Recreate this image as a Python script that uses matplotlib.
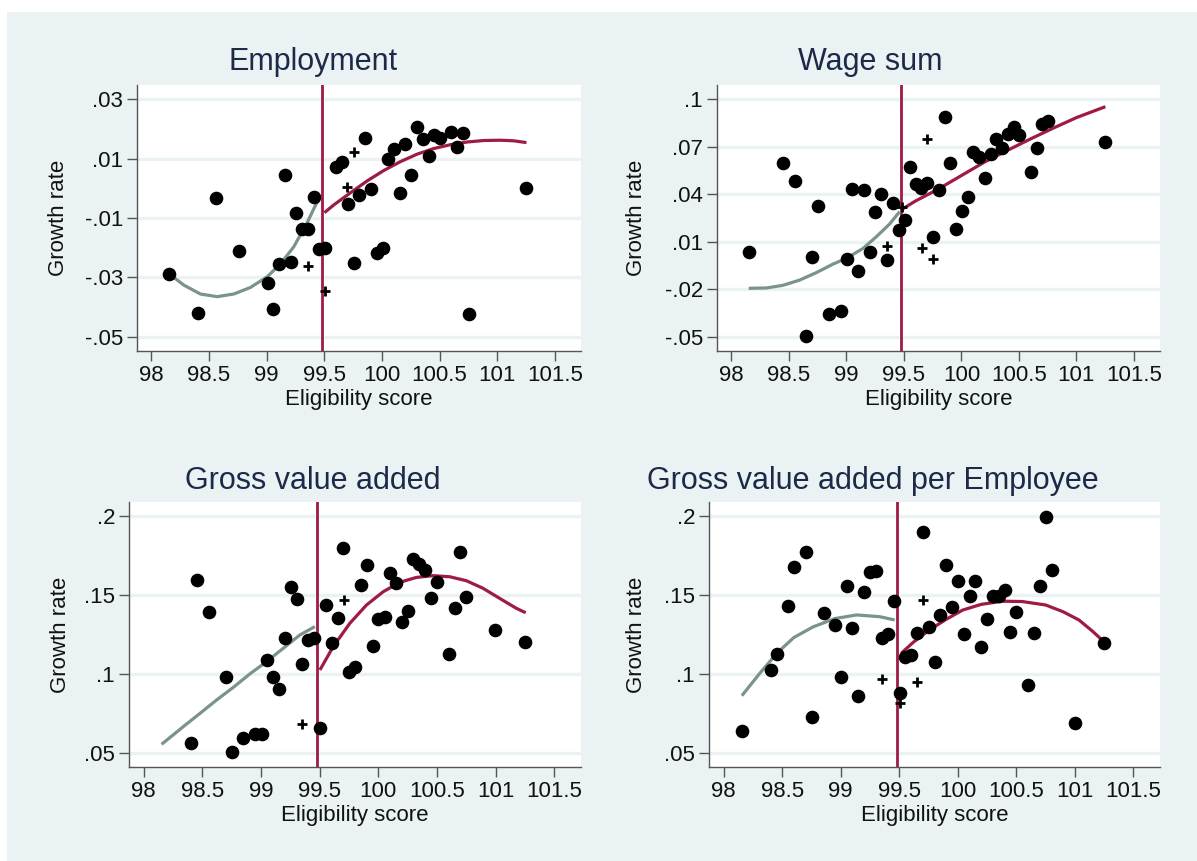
import matplotlib
matplotlib.use("Agg")
import matplotlib.pyplot as plt
from matplotlib.patches import Rectangle

plt.rcParams['font.family'] = ['Liberation Sans', 'DejaVu Sans']

# cutoff on the eligibility score
cutoff = 99.478

# x ticks shared by all panels
x_ticks = [98, 98.5, 99, 99.5, 100, 100.5, 101, 101.5]
x_tick_labels = ["98", "98.5", "99", "99.5", "100", "100.5", "101", "101.5"]

# ---- Employment ----
emp_x = [98.156, 98.405, 98.558, 98.758, 99.01, 99.059, 99.111, 99.157, 99.209, 99.258,
         99.307, 99.357, 99.409, 99.458, 99.510, 99.605, 99.657, 99.704, 99.756, 99.805,
         99.857, 99.906, 99.955, 100.005, 100.054, 100.103, 100.155, 100.204, 100.253, 100.305,
         100.355, 100.407, 100.456, 100.505, 100.603, 100.653, 100.705, 100.754, 101.254]
emp_y = [-0.0289, -0.0419, -0.0033, -0.0210, -0.0318, -0.0406, -0.0256, 0.0045, -0.0248, -0.0082,
         -0.0138, -0.0136, -0.0028, -0.0204, -0.0200, 0.0073, 0.0090, -0.0053, -0.0253, -0.0024,
         0.0171, -0.0001, -0.0218, -0.0200, 0.0100, 0.0131, -0.0017, 0.0149, 0.0045, 0.0206,
         0.0165, 0.0109, 0.0179, 0.0169, 0.0191, 0.0138, 0.0188, -0.0422, 0.0000]
emp_plus_x = [99.36, 99.51, 99.70, 99.76]
emp_plus_y = [-0.0261, -0.0347, 0.0006, 0.0121]
emp_left_x = [98.156, 98.281, 98.425, 98.570, 98.715, 98.859, 99.004, 99.119, 99.235, 99.351, 99.452]
emp_left_y = [-0.0289, -0.0326, -0.0356, -0.0365, -0.0356, -0.0334, -0.0298, -0.0255, -0.0197, -0.0116, -0.0034]
emp_right_x = [99.501, 99.582, 99.727, 99.872, 100.016, 100.161, 100.305, 100.450, 100.595, 100.739,
               100.884, 101.029, 101.144, 101.254]
emp_right_y = [-0.0082, -0.0056, -0.0015, 0.0025, 0.0060, 0.0090, 0.0115, 0.0134, 0.0147, 0.0156,
               0.0161, 0.0162, 0.0160, 0.0154]
emp_ticks = [0.03, 0.01, -0.01, -0.03, -0.05]
emp_tick_labels = [".03", ".01", "-.01", "-.03", "-.05"]

# ---- Wage sum ----
wage_x = [98.151, 98.452, 98.551, 98.704, 98.750, 98.652, 98.852, 98.950, 99.003, 99.052,
          99.101, 99.150, 99.203, 99.252, 99.304, 99.353, 99.402, 99.455, 99.507, 99.553,
          99.602, 99.652, 99.704, 99.756, 99.805, 99.855, 99.904, 99.953, 100.005, 100.054,
          100.104, 100.153, 100.205, 100.254, 100.304, 100.353, 100.405, 100.454, 100.504, 100.602,
          100.654, 100.704, 100.753, 101.251]
wage_y = [0.0033, 0.0596, 0.0486, 0.0001, 0.0326, -0.0496, -0.0355, -0.0336, -0.0009, 0.0435,
          -0.0087, 0.0425, 0.0033, 0.0290, 0.0402, -0.0015, 0.0343, 0.0174, 0.0237, 0.0570,
          0.0467, 0.0442, 0.0473, 0.0128, 0.0425, 0.0886, 0.0596, 0.0181, 0.0296, 0.0383,
          0.0669, 0.0638, 0.0503, 0.0655, 0.0751, 0.0692, 0.0779, 0.0823, 0.0772, 0.0543,
          0.0692, 0.0844, 0.0861, 0.0732]
wage_plus_x = [99.356, 99.487, 99.655, 99.704, 99.756]
wage_plus_y = [0.0073, 0.0322, 0.0058, 0.0749, -0.0009]
wage_left_x = [98.151, 98.304, 98.449, 98.594, 98.739, 98.884, 99.000, 99.145, 99.261, 99.376, 99.463]
wage_left_y = [-0.0194, -0.0192, -0.0175, -0.0142, -0.0095, -0.0041, -0.0005, 0.0058, 0.0132, 0.0212, 0.0290]
wage_right_x = [99.472, 99.6, 99.8, 100.0, 100.2, 100.4, 100.6, 100.8, 101.0, 101.252]
wage_right_y = [0.0300, 0.0357, 0.0433, 0.0518, 0.0603, 0.0677, 0.0749, 0.0818, 0.0884, 0.0953]
wage_ticks = [0.1, 0.07, 0.04, 0.01, -0.02, -0.05]
wage_tick_labels = [".1", ".07", ".04", ".01", "-.02", "-.05"]

# ---- Gross value added ----
gva_x = [98.400, 98.454, 98.553, 98.701, 98.752, 98.849, 98.951, 99.008, 99.053, 99.101,
         99.152, 99.204, 99.252, 99.303, 99.351, 99.402, 99.453, 99.502, 99.553, 99.601,
         99.652, 99.700, 99.749, 99.802, 99.854, 99.902, 99.953, 100.001, 100.055, 100.103,
         100.152, 100.203, 100.251, 100.299, 100.350, 100.401, 100.452, 100.501, 100.600, 100.651,
         100.699, 100.748, 100.998, 101.247]
gva_y = [0.0559, 0.1596, 0.1392, 0.0977, 0.0502, 0.0593, 0.0620, 0.0618, 0.1087, 0.0980,
         0.0906, 0.1229, 0.1550, 0.1476, 0.1064, 0.1212, 0.1225, 0.0654, 0.1436, 0.1197,
         0.1356, 0.1795, 0.1011, 0.1045, 0.1563, 0.1692, 0.1176, 0.1347, 0.1360, 0.1637,
         0.1573, 0.1330, 0.1398, 0.1725, 0.1694, 0.1660, 0.1478, 0.1584, 0.1127, 0.1419,
         0.1772, 0.1484, 0.1275, 0.1199]
gva_plus_x = [99.348, 99.706]
gva_plus_y = [0.0680, 0.1470]
gva_left_x = [98.153, 98.338, 98.480, 98.622, 98.764, 98.905, 99.047, 99.189, 99.331, 99.459]
gva_left_y = [0.0553, 0.0665, 0.0749, 0.0834, 0.0914, 0.0999, 0.1077, 0.1161, 0.1246, 0.1299]
gva_right_x = [99.502, 99.615, 99.757, 99.899, 100.041, 100.183, 100.325, 100.467, 100.609, 100.750,
               100.892, 101.034, 101.176, 101.256]
gva_right_y = [0.1024, 0.1172, 0.1320, 0.1436, 0.1520, 0.1580, 0.1611, 0.1622, 0.1615, 0.1590,
               0.1542, 0.1478, 0.1415, 0.1387]
gva_ticks = [0.2, 0.15, 0.1, 0.05]
gva_tick_labels = [".2", ".15", ".1", ".05"]

# ---- Gross value added per Employee ----
gvae_x = [98.153, 98.406, 98.454, 98.553, 98.604, 98.703, 98.754, 98.854, 98.953, 99.004,
          99.052, 99.100, 99.151, 99.200, 99.251, 99.302, 99.350, 99.401, 99.452, 99.503,
          99.551, 99.602, 99.651, 99.702, 99.750, 99.801, 99.852, 99.900, 99.951, 100.002,
          100.050, 100.102, 100.150, 100.201, 100.252, 100.300, 100.351, 100.399, 100.450, 100.501,
          100.601, 100.652, 100.700, 100.751, 100.802, 101.001, 101.250]
gvae_y = [0.0635, 0.1026, 0.1125, 0.1427, 0.1679, 0.1772, 0.0726, 0.1387, 0.1311, 0.0977,
          0.1558, 0.1290, 0.0861, 0.1520, 0.1643, 0.1653, 0.1225, 0.1252, 0.1459, 0.0878,
          0.1108, 0.1119, 0.1260, 0.1899, 0.1299, 0.1072, 0.1375, 0.1692, 0.1425, 0.1588,
          0.1252, 0.1496, 0.1588, 0.1168, 0.1346, 0.1496, 0.1496, 0.1534, 0.1265, 0.1394,
          0.0929, 0.1260, 0.1554, 0.1992, 0.1658, 0.0686, 0.1197]
gvae_plus_x = [99.353, 99.503, 99.651, 99.702]
gvae_plus_y = [0.0965, 0.0813, 0.0948, 0.1465]
gvae_left_x = [98.156, 98.30, 98.454, 98.60, 98.766, 98.95, 99.135, 99.333, 99.461]
gvae_left_y = [0.0861, 0.0995, 0.1130, 0.1230, 0.1298, 0.1350, 0.1373, 0.1362, 0.1341]
gvae_right_x = [99.517, 99.62, 99.758, 99.9, 100.042, 100.2, 100.382, 100.55, 100.751, 100.9,
                101.035, 101.15, 101.247]
gvae_right_y = [0.1130, 0.1200, 0.1278, 0.1345, 0.1404, 0.1440, 0.1460, 0.1458, 0.1436, 0.1393,
                0.1341, 0.1270, 0.1204]

# colours
bg_color = "#EAF2F3"
title_color = "#1C2A48"
red = "#9E1B42"
green_gray = "#7A9488"
axis_color = "#555555"

W, H = 1197, 861
fig = plt.figure(figsize=(W / 100, H / 100), dpi=100, facecolor="white")

# light background behind the whole graph (top strip stays white)
fig.patches.append(Rectangle((7 / W, 0), 1 - 7 / W, (H - 12) / H, transform=fig.transFigure,
                             facecolor=bg_color, edgecolor="none", zorder=-10))


def panel(rect, title, title_x, title_y, ylabel_x, xs, ys, px, py, lx, ly, rx, ry, yt, ytl, ylim):
    # one scatter panel with both fitted lines and the cutoff
    ax = fig.add_axes([rect[0] / W, 1 - rect[3] / H, (rect[2] - rect[0]) / W, (rect[3] - rect[1]) / H])
    ax.set_zorder(1)
    ax.set_facecolor("white")
    ax.set_xlim(97.875, 101.727)
    ax.set_ylim(ylim)
    for t in yt:
        ax.axhline(t, color=bg_color, lw=2.4, zorder=1)
    ax.axvline(cutoff, color=red, lw=2.0, zorder=2)
    ax.plot(lx, ly, color=green_gray, lw=2.3, zorder=3, solid_capstyle="butt")
    ax.plot(rx, ry, color=red, lw=2.3, zorder=3, solid_capstyle="butt")
    ax.plot(xs, ys, "o", color="black", markersize=8.8, zorder=4)
    ax.plot(px, py, "+", color="black", markersize=6.5, markeredgewidth=2, zorder=4)
    ax.set_xticks(x_ticks)
    ax.set_xticklabels(x_tick_labels)
    ax.set_yticks(yt)
    ax.set_yticklabels(ytl)
    for s in ["top", "right"]:
        ax.spines[s].set_visible(False)
    for s in ["left", "bottom"]:
        ax.spines[s].set_color(axis_color)
        ax.spines[s].set_linewidth(1.0)
    ax.tick_params(axis="both", direction="out", length=7, width=1, color=axis_color,
                   labelsize=16, pad=3, labelcolor="#111111")
    ax.set_xlabel("Eligibility score", fontsize=16, labelpad=2, color="#111111")
    ax.set_ylabel("Growth rate", fontsize=16, color="#111111", va="center")
    ax.yaxis.set_label_coords((ylabel_x - rect[0]) / (rect[2] - rect[0]), 0.5)
    fig.text(title_x / W, 1 - title_y / H, title, fontsize=22, color=title_color,
             ha="center", va="baseline")
    return ax


panel((137, 85, 581, 351), "Employment", 313, 70, 59,
      emp_x, emp_y, emp_plus_x, emp_plus_y, emp_left_x, emp_left_y, emp_right_x, emp_right_y,
      emp_ticks, emp_tick_labels, (-0.0548, 0.0348))

panel((717, 85, 1160, 351), "Wage sum", 870, 70, 637,
      wage_x, wage_y, wage_plus_x, wage_plus_y, wage_left_x, wage_left_y, wage_right_x, wage_right_y,
      wage_ticks, wage_tick_labels, (-0.059, 0.109))

panel((129, 502, 581, 767), "Gross value added", 313, 489, 60,
      gva_x, gva_y, gva_plus_x, gva_plus_y, gva_left_x, gva_left_y, gva_right_x, gva_right_y,
      gva_ticks, gva_tick_labels, (0.0409, 0.2089))

panel((709, 502, 1160, 767), "Gross value added per Employee", 873, 489, 637,
      gvae_x, gvae_y, gvae_plus_x, gvae_plus_y, gvae_left_x, gvae_left_y, gvae_right_x, gvae_right_y,
      gva_ticks, gva_tick_labels, (0.0409, 0.2089))

fig.savefig("out.png", dpi=100, facecolor=fig.get_facecolor())
